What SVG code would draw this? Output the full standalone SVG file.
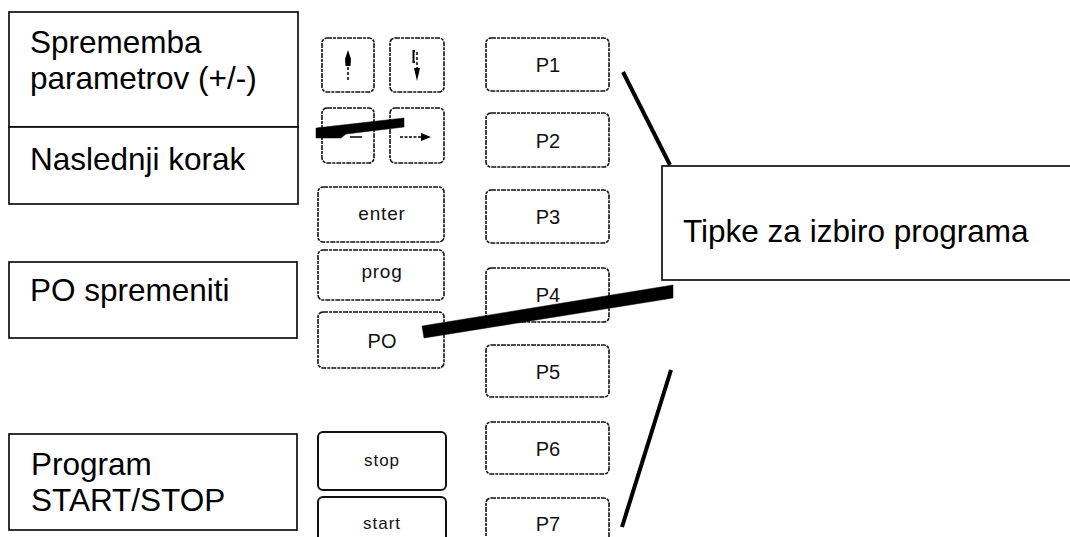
<svg xmlns="http://www.w3.org/2000/svg" width="1070" height="537" viewBox="0 0 1070 537">
<style>
.lbl{fill:#fff;stroke:#000;stroke-width:1.6}
.lt{font-family:"Liberation Sans",Arial,sans-serif;font-size:31.5px;fill:#000}
.key{fill:#fff;stroke:#111;stroke-width:1.6;stroke-dasharray:5 1 3 1}
.keys{fill:#fff;stroke:#111;stroke-width:2}
.kt{font-family:"Liberation Sans",Arial,sans-serif;font-size:20px;fill:#111;text-anchor:middle}
.ke{font-family:"Liberation Sans",Arial,sans-serif;font-size:19px;fill:#111;text-anchor:middle;letter-spacing:0.8px}
.ks{font-family:"Liberation Sans",Arial,sans-serif;font-size:17px;fill:#111;text-anchor:middle;letter-spacing:1px}
.ar{stroke:#000;stroke-width:2;fill:none}
.con{fill:#000;stroke:#000}
</style>
<rect width="1070" height="537" fill="#fff"/>

<g id="label-sprememba">
<rect class="lbl" x="9" y="12" width="289" height="115"/>
<text class="lt" x="30" y="53">Sprememba</text>
<text class="lt" x="30" y="89">parametrov (+/-)</text>
</g>
<g id="label-naslednji">
<rect class="lbl" x="9" y="127" width="289" height="77"/>
<text class="lt" x="30" y="170">Naslednji korak</text>
</g>
<g id="label-po">
<rect class="lbl" x="9" y="262" width="288" height="76"/>
<text class="lt" x="30" y="301">PO spremeniti</text>
</g>
<g id="label-program">
<rect class="lbl" x="9" y="434" width="288" height="96"/>
<text class="lt" x="31" y="475">Program</text>
<text class="lt" x="31" y="511">START/STOP</text>
</g>

<g id="key-up">
<rect class="key" x="322" y="38" width="52" height="54" rx="5"/>
<line x1="348" y1="62" x2="348" y2="80" stroke="#000" stroke-width="1.5" stroke-dasharray="3 2"/>
<path d="M348 50 L351 59 L350.5 66 L345.5 66 L345 59 Z" fill="#000"/>
</g>
<g id="key-down">
<rect class="key" x="390" y="38" width="54" height="54" rx="5"/>
<path d="M415 51 L413.5 51 L413.5 62 L415 62" class="ar" stroke-width="1.2"/>
<line x1="417" y1="52" x2="417" y2="68" stroke="#000" stroke-width="1.5" stroke-dasharray="3 2"/>
<path d="M417 81 L420 68 L414 68 Z" fill="#000"/>
</g>
<g id="key-left">
<rect class="key" x="322" y="108" width="52" height="55" rx="5"/>
<line x1="350" y1="137" x2="362" y2="137" stroke="#000" stroke-width="1.5"/>
</g>
<g id="key-right">
<rect class="key" x="390" y="108" width="54" height="55" rx="5"/>
<line x1="400" y1="137" x2="423" y2="137" stroke="#000" stroke-width="1.6" stroke-dasharray="3 1.5"/>
<path d="M431 137 L421 133 L421 141 Z" fill="#000"/>
</g>
<g id="key-enter">
<rect class="key" x="318" y="187" width="126" height="55" rx="5"/>
<text class="ke" x="382" y="220">enter</text>
</g>
<g id="key-prog">
<rect class="key" x="318" y="250" width="126" height="50" rx="5"/>
<text class="ke" x="382" y="278">prog</text>
</g>
<g id="key-po">
<rect class="key" x="318" y="312" width="126" height="56" rx="5"/>
<text class="kt" x="382" y="348">PO</text>
</g>
<g id="key-stop">
<rect class="keys" x="318" y="432" width="128" height="58" rx="5"/>
<text class="ks" x="382" y="466">stop</text>
</g>
<g id="key-start">
<rect class="keys" x="318" y="497" width="128" height="60" rx="5"/>
<text class="ks" x="382" y="529">start</text>
</g>

<g id="key-p1">
<rect class="key" x="486" y="38" width="123" height="53" rx="5"/>
<text class="kt" x="548" y="72">P1</text>
</g>
<g id="key-p2">
<rect class="key" x="486" y="113" width="123" height="54" rx="5"/>
<text class="kt" x="548" y="148">P2</text>
</g>
<g id="key-p3">
<rect class="key" x="486" y="190" width="123" height="53" rx="5"/>
<text class="kt" x="548" y="224">P3</text>
</g>
<g id="key-p4">
<rect class="key" x="486" y="268" width="123" height="54" rx="5"/>
<text class="kt" x="548" y="302">P4</text>
</g>
<g id="key-p5">
<rect class="key" x="486" y="345" width="123" height="52" rx="5"/>
<text class="kt" x="548" y="379">P5</text>
</g>
<g id="key-p6">
<rect class="key" x="486" y="422" width="123" height="52" rx="5"/>
<text class="kt" x="548" y="456">P6</text>
</g>
<g id="key-p7">
<rect class="key" x="486" y="498" width="123" height="60" rx="5"/>
<text class="kt" x="548" y="531">P7</text>
</g>

<g id="label-tipke">
<rect class="lbl" x="662" y="166" width="420" height="114"/>
<text class="lt" x="683" y="242">Tipke za izbiro programa</text>
</g>

<g id="connectors">
<line x1="623" y1="72" x2="670" y2="165" stroke="#000" stroke-width="4"/>
<line x1="671" y1="370" x2="622" y2="527" stroke="#000" stroke-width="4"/>
<polygon class="con" stroke-width="0.5" points="422,326 673,285 673,298 424,338"/>
<polygon class="con" stroke-width="0.5" points="316,128 404,118 404,127 346,134 341,138 316,138"/>
</g>
</svg>
